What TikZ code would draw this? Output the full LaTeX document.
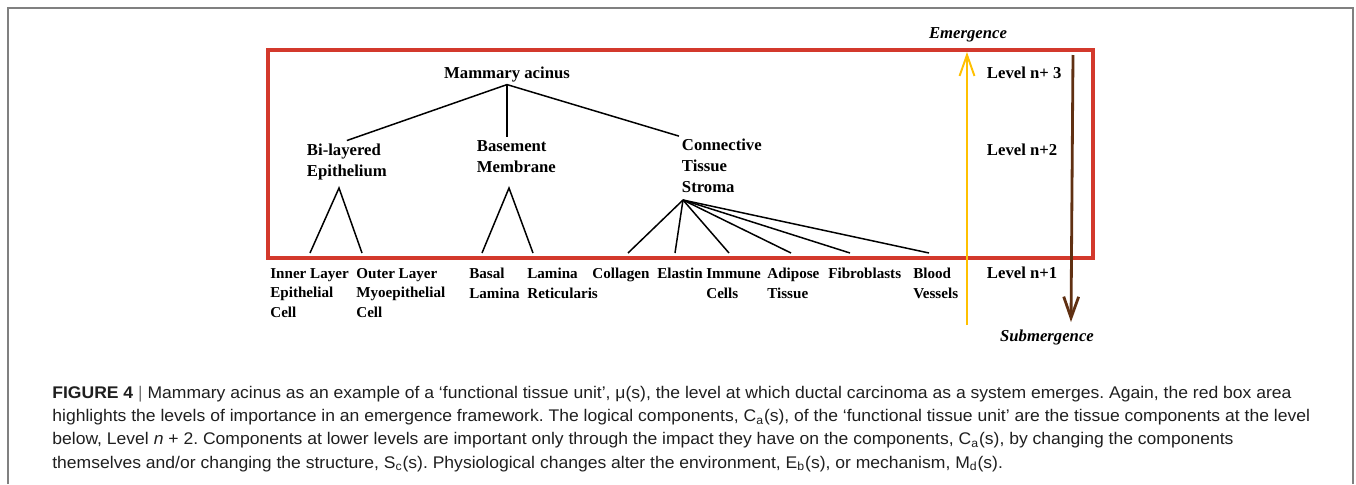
\documentclass[tikz,border=0pt]{standalone}
\usepackage{fontspec}
\setmainfont{Liberation Serif}
\newfontfamily\capfont[FakeStretch=1.04]{Liberation Sans}
\usetikzlibrary{arrows.meta}
\definecolor{boxred}{RGB}{211,57,44}
\definecolor{emyellow}{RGB}{255,192,0}
\definecolor{subbrown}{RGB}{96,48,18}
\tikzset{
  upper/.style={font=\bfseries\fontsize{9.5}{11.9}\selectfont, align=left, inner sep=1.5pt},
  lower/.style={font=\bfseries\fontsize{8.6}{10.9}\selectfont, align=left, inner sep=0pt, anchor=base west},
  leg/.style={line width=0.85pt},
  barb/.style={-{Straight Barb[length=12pt,width=8.5pt]}},
}
\begin{document}
\begin{tikzpicture}[x=0.02cm,y=-0.02cm]
\useasboundingbox (0,0) rectangle (1356,484);
\draw[gray, line width=0.9pt] (8,484) -- (8,8) -- (1353,8) -- (1353,484);
\draw[boxred, line width=2.3pt] (268,50) rectangle (1093,258);
% level n+3 and n+2 (base = last line)
\node[upper, anchor=base] (acinus) at (507,78) {Mammary acinus};
\node[upper, anchor=base west] (bilayer) at (304,176) {Bi-layered\\Epithelium};
\node[upper, anchor=base west] (basement) at (474,172) {Basement\\Membrane};
\node[upper, anchor=base west] (stroma) at (679,192.5) {Connective\\Tissue\\Stroma};
\draw[leg] (acinus.south) -- (bilayer.north);
\draw[leg] (acinus.south) -- (acinus.south |- basement.north);
\draw[leg] (acinus.south) -- (stroma.north west);
% level n+1
\node[lower] (inner) at (270,317) {Inner Layer\\Epithelial\\Cell};
\node[lower] (outer) at (356,317) {Outer Layer\\Myoepithelial\\Cell};
\node[lower] (basal) at (469,298) {Basal\\Lamina};
\node[lower] (lamina) at (527,298) {Lamina\\Reticularis};
\node[lower] (collagen) at (592,278.5) {Collagen};
\node[lower] (elastin) at (657,278.5) {Elastin};
\node[lower] (immune) at (706,298) {Immune\\Cells};
\node[lower] (adipose) at (767,298) {Adipose\\Tissue};
\node[lower] (fibro) at (828,278.5) {Fibroblasts};
\node[lower] (blood) at (913,298) {Blood\\Vessels};
\coordinate (bi-apex) at (339,188);
\coordinate (bm-apex) at (509,188);
\coordinate (st-apex) at (683,200);
\foreach \x [count=\i] in {310,362,482,533,628,675,729,791,850,929}
  \coordinate (f\i) at (\x,253);
\draw[leg] (f1) -- (bi-apex) -- (f2);
\draw[leg] (f3) -- (bm-apex) -- (f4);
\foreach \i in {5,...,10}
  \draw[leg] (st-apex) -- (f\i);
% levels and arrows
\node[upper, anchor=base west] (lev3) at (984,78) {Level n+ 3};
\node[upper, anchor=base west] (lev2) at (984,155) {Level n+2};
\node[upper, anchor=base west] (lev1) at (984,278.5) {Level n+1};
\node[upper, anchor=base, font=\bfseries\itshape\fontsize{9.5}{11.9}\selectfont] (emerge) at (968,38) {Emergence};
\node[upper, anchor=base, font=\bfseries\itshape\fontsize{9.5}{11.9}\selectfont] (submerge) at (1047,341) {Submergence};
\coordinate (em-start) at (967,325);
\coordinate (em-end) at (967,52);
\coordinate (sub-start) at (1073,55);
\coordinate (sub-end) at (1071,322);
\draw[emyellow, line width=1.1pt, barb] (em-start) -- (em-end);
\draw[subbrown, line width=1.6pt, barb] (sub-start) -- (sub-end);
% caption
\node[anchor=base west, align=left, inner sep=0pt, text=black!88,
  font=\capfont\fontsize{9.6}{13.2}\selectfont\frenchspacing] (caption) at (52,468)
  {\textbf{FIGURE 4} {\color{black!55}|} Mammary acinus as an example of a ‘functional tissue unit’, μ(s), the level at which ductal carcinoma as a system emerges. Again, the red box area\\
   highlights the levels of importance in an emergence framework. The logical components, C\textsubscript{a}(s), of the ‘functional tissue unit’ are the tissue components at the level\\
   below, Level \textit{n} + 2. Components at lower levels are important only through the impact they have on the components, C\textsubscript{a}(s), by changing the components\\
   themselves and/or changing the structure, S\textsubscript{c}(s). Physiological changes alter the environment, E\textsubscript{b}(s), or mechanism, M\textsubscript{d}(s).};
\end{tikzpicture}
\end{document}
